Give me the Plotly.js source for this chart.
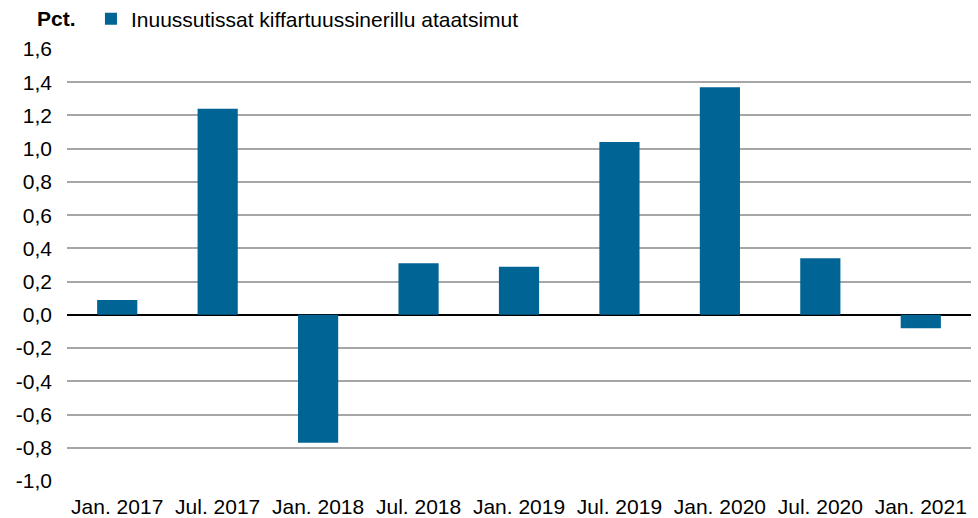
<!DOCTYPE html>
<html>
<head>
<meta charset="utf-8">
<script src="https://cdn.plot.ly/plotly-3.0.1.min.js"></script>
<style>html,body{margin:0;padding:0;background:#fff;}#chart{width:978px;height:518px;}</style>
</head>
<body>
<div id="chart"></div>
<script>
const categories = ["Jan. 2017","Jul. 2017","Jan. 2018","Jul. 2018","Jan. 2019","Jul. 2019","Jan. 2020","Jul. 2020","Jan. 2021"];
const values = [0.09, 1.24, -0.77, 0.31, 0.29, 1.04, 1.37, 0.34, -0.08];
const seriesName = "Inuussutissat kiffartuussinerillu ataatsimut";
const yTitle = "Pct.";
const yTickVals = [-1.0, -0.8, -0.6, -0.4, -0.2, 0.0, 0.2, 0.4, 0.6, 0.8, 1.0, 1.2, 1.4, 1.6];
const yTickLabels = ["-1,0", "-0,8", "-0,6", "-0,4", "-0,2", "0,0", "0,2", "0,4", "0,6", "0,8", "1,0", "1,2", "1,4", "1,6"];

const FONT = "Liberation Sans, Arial, sans-serif";

const trace = {
  type: "bar",
  x: categories,
  y: values,
  name: seriesName,
  marker: {color: "#006495"},
  showlegend: true
};

const layout = {
  width: 978, height: 518,
  margin: {l: 67, r: 7, t: 49, b: 37, autoexpand: false},
  paper_bgcolor: "#fff", plot_bgcolor: "#fff",
  bargap: 0.6,
  font: {family: FONT, size: 21, color: "#000"},
  xaxis: {
    type: "category",
    showgrid: false, showline: false, ticks: "",
    tickfont: {size: 21, family: FONT}, automargin: false,
    ticklabelstandoff: 11
  },
  yaxis: {
    range: [-1.0, 1.6],
    tickmode: "array", tickvals: yTickVals, ticktext: yTickLabels,
    showgrid: true, gridcolor: "#a6a6a6", gridwidth: 2,
    zeroline: true, zerolinecolor: "#000", zerolinewidth: 2,
    showline: false, ticks: "",
    tickfont: {size: 21, family: FONT}, automargin: false,
    ticklabelstandoff: 14
  },
  showlegend: true,
  legend: {
    x: 0.0265, xanchor: "left", y: 1.069, yanchor: "middle",
    orientation: "h", font: {size: 21, family: FONT}, bgcolor: "rgba(0,0,0,0)",
    itemwidth: 30
  },
  annotations: [{
    text: "<b>" + yTitle + "</b>", xref: "paper", yref: "paper",
    x: 0, y: 1, xshift: -11, yshift: 31, xanchor: "center", yanchor: "middle",
    showarrow: false, font: {size: 21, family: FONT, color: "#000"}
  }]
};

Plotly.newPlot("chart", [trace], layout, {displayModeBar: false, staticPlot: true});
</script>
</body>
</html>
